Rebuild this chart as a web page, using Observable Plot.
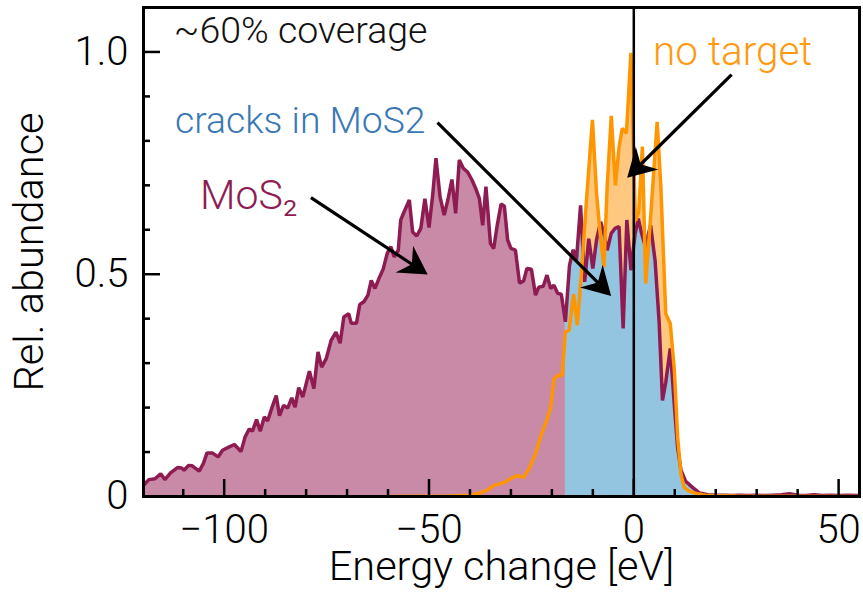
<!DOCTYPE html>
<html>
<head>
<meta charset="utf-8">
<script src="https://cdn.jsdelivr.net/npm/d3@7"></script>
<script src="https://cdn.jsdelivr.net/npm/@observablehq/plot@0.6"></script>
<style>
  html, body { margin: 0; padding: 0; background: #fff; }
</style>
</head>
<body>
<div id="chart"></div>
<script>
// Energy-change spectra: MoS2 target vs. no target
const mos2Energy = [
  -120.8, -119.5, -118.4, -116.9, -115.5, -114.5, -113.1, -111.4, -110.4, -109.8,
  -108.7, -107.8, -106.1, -105.1, -104.2, -102.9, -101.5, -100.4, -98.9, -97.5,
  -95.9, -94.9, -93.9, -93.1, -92.1, -91.2, -90.2, -89.4, -88.3, -87.3,
  -86.5, -85.5, -84.5, -83.5, -82.7, -81.8, -80.8, -79.2, -78.1, -77.1,
  -76.2, -75.1, -73.9, -72.7, -71.7, -70.8, -69.6, -69.0, -67.7, -66.9,
  -65.9, -64.9, -64.1, -63.2, -62.0, -61.2, -60.2, -59.3, -58.5, -57.5,
  -56.9, -56.1, -54.8, -54.0, -53.0, -52.0, -51.0, -50.0, -49.1, -48.3,
  -47.3, -46.3, -45.4, -44.4, -43.5, -42.6, -41.6, -40.6, -39.5, -38.6,
  -37.7, -36.9, -36.1, -35.0, -34.2, -33.4, -32.4, -31.6, -30.8, -30.0,
  -28.9, -27.9, -26.9, -26.1, -25.0, -24.0, -23.2, -22.1, -21.2, -20.3,
  -19.5, -18.6, -17.7, -16.7, -15.7, -14.8, -14.0, -13.0, -12.0, -11.0,
  -10.0, -9.1, -8.1, -7.3, -6.5, -5.5, -4.6, -3.6, -2.6, -1.7,
  -0.7, 0.3, 1.1, 1.9, 2.8, 4.1, 5.2, 6.2, 7.0, 7.8,
  8.9, 9.9, 10.7, 11.5, 12.6, 14.4, 16.0, 18, 20, 22,
  24, 26, 28, 30, 32, 34, 36, 38, 40, 42,
  44, 46, 48, 50, 52, 56
];
const mos2Abundance = [
  0.025, 0.027, 0.038, 0.040, 0.051, 0.038, 0.053, 0.065, 0.064, 0.059,
  0.070, 0.069, 0.057, 0.074, 0.098, 0.098, 0.089, 0.104, 0.111, 0.117,
  0.101, 0.134, 0.152, 0.147, 0.173, 0.147, 0.179, 0.170, 0.201, 0.227,
  0.182, 0.205, 0.199, 0.222, 0.201, 0.245, 0.224, 0.282, 0.243, 0.325,
  0.291, 0.310, 0.351, 0.370, 0.345, 0.404, 0.411, 0.390, 0.390, 0.432,
  0.438, 0.453, 0.486, 0.468, 0.495, 0.511, 0.547, 0.562, 0.539, 0.554,
  0.622, 0.640, 0.667, 0.595, 0.586, 0.603, 0.670, 0.605, 0.678, 0.761,
  0.674, 0.633, 0.667, 0.713, 0.637, 0.757, 0.738, 0.730, 0.712, 0.693,
  0.670, 0.610, 0.697, 0.569, 0.558, 0.607, 0.658, 0.653, 0.577, 0.558,
  0.554, 0.480, 0.485, 0.513, 0.511, 0.453, 0.471, 0.473, 0.498, 0.468,
  0.475, 0.457, 0.455, 0.393, 0.520, 0.555, 0.532, 0.655, 0.483, 0.580,
  0.513, 0.577, 0.618, 0.592, 0.554, 0.592, 0.603, 0.607, 0.378, 0.622,
  0.509, 0.590, 0.625, 0.592, 0.563, 0.610, 0.530, 0.390, 0.216, 0.257,
  0.333, 0.205, 0.110, 0.060, 0.035, 0.020, 0.008, 0.004, 0.003, 0.003,
  0.002, 0.003, 0.002, 0.003, 0.002, 0.003, 0.004, 0.006, 0.003, 0.002,
  0.004, 0.002, 0.003, 0.002, 0.003, 0.002
];

const noTargetEnergy = [
  -60, -45, -40, -37.5, -35.9, -34.1, -31.8, -30.1, -28.5, -26.9,
  -25.7, -24.0, -22.8, -21.3, -20.3, -19.5, -18.6, -17.5, -16.7, -15.8,
  -14.7, -13.8, -12.8, -11.6, -10.1, -9.1, -8.2, -7.3, -6.5, -5.5,
  -4.5, -3.6, -2.8, -1.8, -0.7, 0.4, 1.2, 2.1, 2.9, 4.2,
  5.7, 6.6, 7.8, 8.9, 9.9, 10.7, 11.5, 12.3, 13.5, 15.6,
  18, 25, 56
];
const noTargetAbundance = [
  0.000, 0.001, 0.003, 0.008, 0.014, 0.025, 0.031, 0.040, 0.047, 0.043,
  0.060, 0.096, 0.134, 0.170, 0.201, 0.264, 0.273, 0.272, 0.370, 0.374,
  0.455, 0.385, 0.500, 0.660, 0.847, 0.682, 0.590, 0.516, 0.697, 0.856,
  0.700, 0.786, 0.828, 0.817, 0.998, 0.620, 0.640, 0.787, 0.479, 0.640,
  0.843, 0.697, 0.411, 0.389, 0.284, 0.134, 0.051, 0.020, 0.012, 0.006,
  0.002, 0.001, 0.000
];

// energy at which the "cracks" (uncovered) part of the MoS2 spectrum begins
const crackEdge = -16.7;

const xMajorTicks = [-100, -50, 0, 50];
const xMinorTicks = [-110, -90, -80, -70, -60, -40, -30, -20, -10, 10, 20, 30, 40];
const yMajorTicks = [0, 0.5, 1.0];
const yMinorTicks = [0.1, 0.2, 0.3, 0.4, 0.6, 0.7, 0.8, 0.9];

const annotationText = ["~60% coverage", "cracks in MoS2", "MoS\u2082", "no target"];
const annotationX = [-112.3, -112.0, -105.9, 4.7];
const annotationY = [1.020, 0.818, 0.646, 0.971];

// arrows: tail (x1, y1) -> head (x2, y2), in data units
const arrowX1 = [-78.7, -47.8, 24.0];
const arrowY1 = [0.671, 0.840, 0.948];
const arrowX2 = [-50.2, -5.4, -1.5];
const arrowY2 = [0.498, 0.450, 0.716];

// ---- tables ----
const mos2 = mos2Energy.map((x, i) => ({x, y: mos2Abundance[i]}));
const noTarget = noTargetEnergy.map((x, i) => ({x, y: noTargetAbundance[i]}));
const annotations = annotationText.map((text, i) => ({
  text, x: annotationX[i], y: annotationY[i],
  color: ["#111111", "#3a78b4", "#8e1c52", "#ff9a10"][i],
  size: [37.5, 37.3, 41, 40.5][i]
}));
const arrows = arrowX1.map((x1, i) => ({x1, y1: arrowY1[i], x2: arrowX2[i], y2: arrowY2[i]}));

const W = 863, H = 599;
const M = {top: 7, right: 4, bottom: 103, left: 143};
const plotW = W - M.left - M.right;
const plotH = H - M.top - M.bottom;

const maroon = "#8e1c52";
const orange = "#ff9500";
const pinkFill = "#c98aa7";
const blueFill = "#94c5e0";
const orangeFill = "#ffc880";

// filled arrow with a notched (stealth) head, drawn through the plot scales
function arrowMark(index, scales) {
  const g = d3.create("svg:g");
  const L = 28, HW = 16, N = 19;
  for (const a of arrows) {
    const x1 = scales.x(a.x1), y1 = scales.y(a.y1);
    const x2 = scales.x(a.x2), y2 = scales.y(a.y2);
    const len = Math.hypot(x2 - x1, y2 - y1);
    const ux = (x2 - x1) / len, uy = (y2 - y1) / len;
    const nx = -uy, ny = ux;
    const bx = x2 - ux * L, by = y2 - uy * L;
    const mx = x2 - ux * N, my = y2 - uy * N;
    g.append("line")
      .attr("x1", x1).attr("y1", y1)
      .attr("x2", mx + ux * 2).attr("y2", my + uy * 2)
      .attr("stroke", "black").attr("stroke-width", 3.2);
    g.append("path")
      .attr("d", `M${x2},${y2}L${bx + nx * HW},${by + ny * HW}L${mx},${my}L${bx - nx * HW},${by - ny * HW}Z`)
      .attr("fill", "black");
  }
  return g.node();
}

const chart = Plot.plot({
  width: W,
  height: H,
  marginTop: M.top,
  marginRight: M.right,
  marginBottom: M.bottom,
  marginLeft: M.left,
  style: {fontFamily: "Roboto, 'Liberation Sans', Arial, sans-serif", fontWeight: 300, fontSize: "40px", background: "white", color: "black"},
  x: {domain: [-119.7, 55.1]},
  y: {domain: [0, 1.1]},
  color: {type: "identity"},
  marks: [
    // no-target spectrum fill
    Plot.areaY(noTarget, {x: "x", y: "y", fill: orangeFill, clip: true}),
    // MoS2 spectrum fill: crack region (blue), covered region (pink)
    Plot.areaY(mos2.filter(d => d.x >= crackEdge), {x: "x", y: "y", fill: blueFill, clip: true}),
    Plot.areaY(mos2.filter(d => d.x <= crackEdge), {x: "x", y: "y", fill: pinkFill, clip: true}),
    Plot.lineY(mos2, {x: "x", y: "y", stroke: maroon, strokeWidth: 3.5, strokeLinejoin: "miter", clip: true}),
    Plot.lineY(noTarget, {x: "x", y: "y", stroke: orange, strokeWidth: 3.5, strokeLinejoin: "miter", clip: true}),
    Plot.ruleX([0], {stroke: "black", strokeWidth: 2.5}),
    // inward tick marks
    Plot.ruleX(xMajorTicks, {x: d => d, insetTop: plotH - 17, stroke: "black", strokeWidth: 2.5}),
    Plot.ruleX(xMinorTicks, {x: d => d, insetTop: plotH - 7, stroke: "black", strokeWidth: 2.5}),
    Plot.ruleY(yMajorTicks, {y: d => d, insetRight: plotW - 17, stroke: "black", strokeWidth: 2.5}),
    Plot.ruleY(yMinorTicks, {y: d => d, insetRight: plotW - 7, stroke: "black", strokeWidth: 2.5}),
    Plot.axisX(xMajorTicks, {tickSize: 0, tickPadding: 18.5, label: null, fontSize: 40, tickFormat: d3.format("d")}),
    Plot.axisY(yMajorTicks, {tickSize: 0, tickPadding: 15, label: null, fontSize: 40, tickFormat: d => d === 0 ? "0" : d.toFixed(1)}),
    Plot.text(["Energy change [eV]"], {frameAnchor: "bottom", dy: 83.5, lineAnchor: "bottom", fontSize: 41.5, fill: "black"}),
    Plot.text(["Rel. abundance"], {frameAnchor: "left", rotate: -90, dx: -101, textAnchor: "middle", lineAnchor: "bottom", fontSize: 41.5, fill: "black"}),
    // annotations
    Plot.text(annotations, {x: "x", y: "y", text: "text", fill: "color", fontSize: "size", textAnchor: "start", lineAnchor: "bottom"}),
    Plot.frame({stroke: "black", strokeWidth: 3}),
    arrowMark
  ]
});

document.getElementById("chart").appendChild(chart);
</script>
</body>
</html>
